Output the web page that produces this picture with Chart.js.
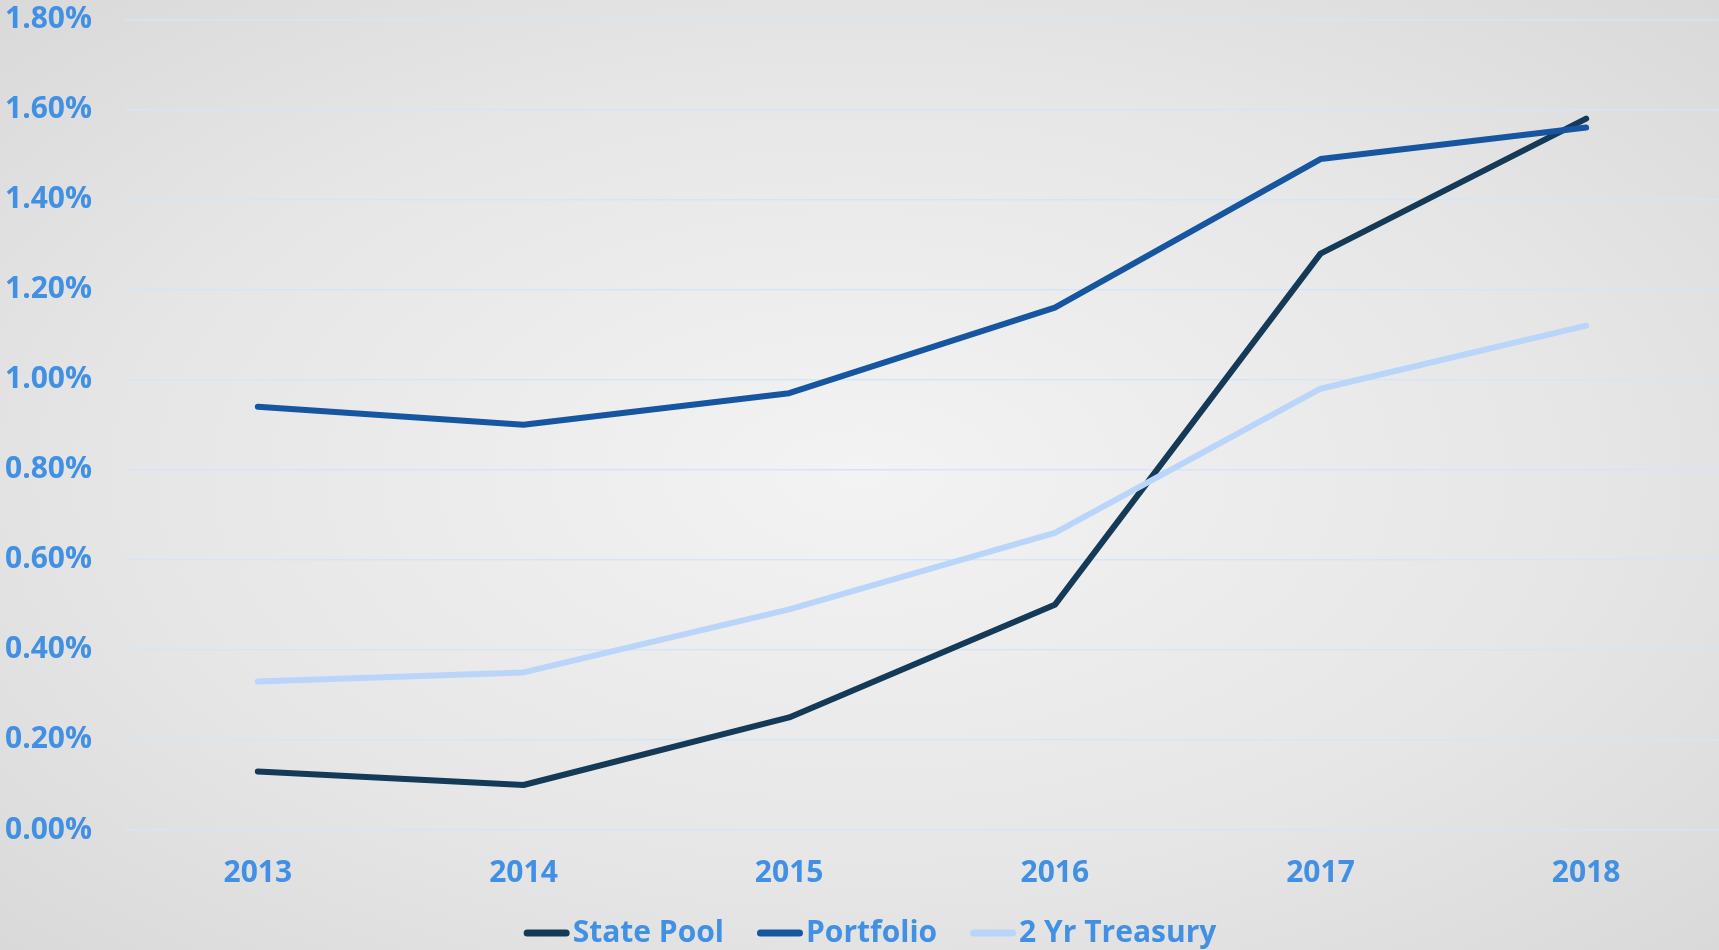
<!DOCTYPE html>
<html>
<head>
<meta charset="utf-8">
<script src="https://cdn.jsdelivr.net/npm/chart.js@4"></script>
<style>
    html, body { margin: 0; padding: 0; }
    body {
        width: 1719px;
        height: 950px;
        overflow: hidden;
        background: radial-gradient(ellipse at 50% 50%, #f3f3f3 0%, #e6e6e6 60%, #d9d9d9 100%);
    }
    #chart { display: block; }
</style>
</head>
<body>
<canvas id="chart" width="1719" height="950"></canvas>
<script>
// 차트 데이터
const years = ['2013', '2014', '2015', '2016', '2017', '2018'];
const statePool = [0.13, 0.10, 0.25, 0.50, 1.28, 1.58];
const portfolio = [0.94, 0.90, 0.97, 1.16, 1.49, 1.56];
const treasury2yr = [0.33, 0.35, 0.49, 0.66, 0.98, 1.12];
const seriesNames = ['State Pool', 'Portfolio', '2 Yr Treasury'];
const seriesColors = ['#143a58', '#1656a0', '#bad5fa'];

const textColor = '#4190e4';
const fontFamily = "'Open Sans', 'Noto Sans', sans-serif";

// 아래쪽 범례를 직접 그리는 플러그인 (기호와 글자 사이 간격이 좁음)
const bottomLegend = {
    id: 'bottomLegend',
    afterDraw(chart) {
        const ctx = chart.ctx;
        const y = 933;
        const symbolW = 46;
        const gap = 3;
        const itemGap = 33;
        ctx.save();
        ctx.font = `bold 30px ${fontFamily}`;
        const items = chart.data.datasets.map(ds => ({
            label: ds.label,
            color: ds.borderColor,
            w: symbolW + gap + ctx.measureText(ds.label).width
        }));
        const total = items.reduce((s, it) => s + it.w, 0) + itemGap * (items.length - 1);
        let x = 870 - total / 2;
        items.forEach(it => {
            ctx.strokeStyle = it.color;
            ctx.lineWidth = 7;
            ctx.lineCap = 'round';
            ctx.beginPath();
            ctx.moveTo(x + 3.5, y);
            ctx.lineTo(x + symbolW - 3.5, y);
            ctx.stroke();
            ctx.fillStyle = textColor;
            ctx.textAlign = 'left';
            ctx.textBaseline = 'middle';
            ctx.fillText(it.label, x + symbolW + gap, y);
            x += it.w + itemGap;
        });
        ctx.restore();
    }
};

const ctx = document.getElementById('chart').getContext('2d');
const chart = new Chart(ctx, {
    type: 'line',
    data: {
        labels: years,
        datasets: [statePool, portfolio, treasury2yr].map((values, i) => ({
            label: seriesNames[i],
            data: values,
            borderColor: seriesColors[i],
            backgroundColor: seriesColors[i],
            borderWidth: 6,
            borderCapStyle: 'round',
            borderJoinStyle: 'round',
            pointRadius: 0,
            tension: 0,
            fill: false,
            order: 2 - i // 엑셀처럼 뒤의 계열이 위에 그려지도록
        }))
    },
    options: {
        responsive: false,
        devicePixelRatio: 1,
        animation: false,
        layout: {
            padding: { left: 5, right: 0, top: 17, bottom: 33 }
        },
        plugins: {
            legend: { display: false },
            tooltip: { enabled: false }
        },
        scales: {
            x: {
                offset: true,
                grid: { display: false, drawTicks: false },
                border: { display: false },
                ticks: {
                    color: textColor,
                    padding: 27,
                    font: { family: fontFamily, size: 30, weight: 'bold', lineHeight: 1.1 }
                }
            },
            y: {
                min: 0,
                max: 1.8,
                grid: { color: '#d5e5f7', lineWidth: 1.5, drawTicks: false },
                border: { display: false },
                afterFit(scale) {
                    scale.width = 120;
                },
                ticks: {
                    stepSize: 0.2,
                    crossAlign: 'far',
                    color: textColor,
                    font: { family: fontFamily, size: 30, weight: 'bold', lineHeight: 1.1 },
                    callback: value => value.toFixed(2) + '%'
                }
            }
        }
    },
    plugins: [bottomLegend]
});
</script>
</body>
</html>
